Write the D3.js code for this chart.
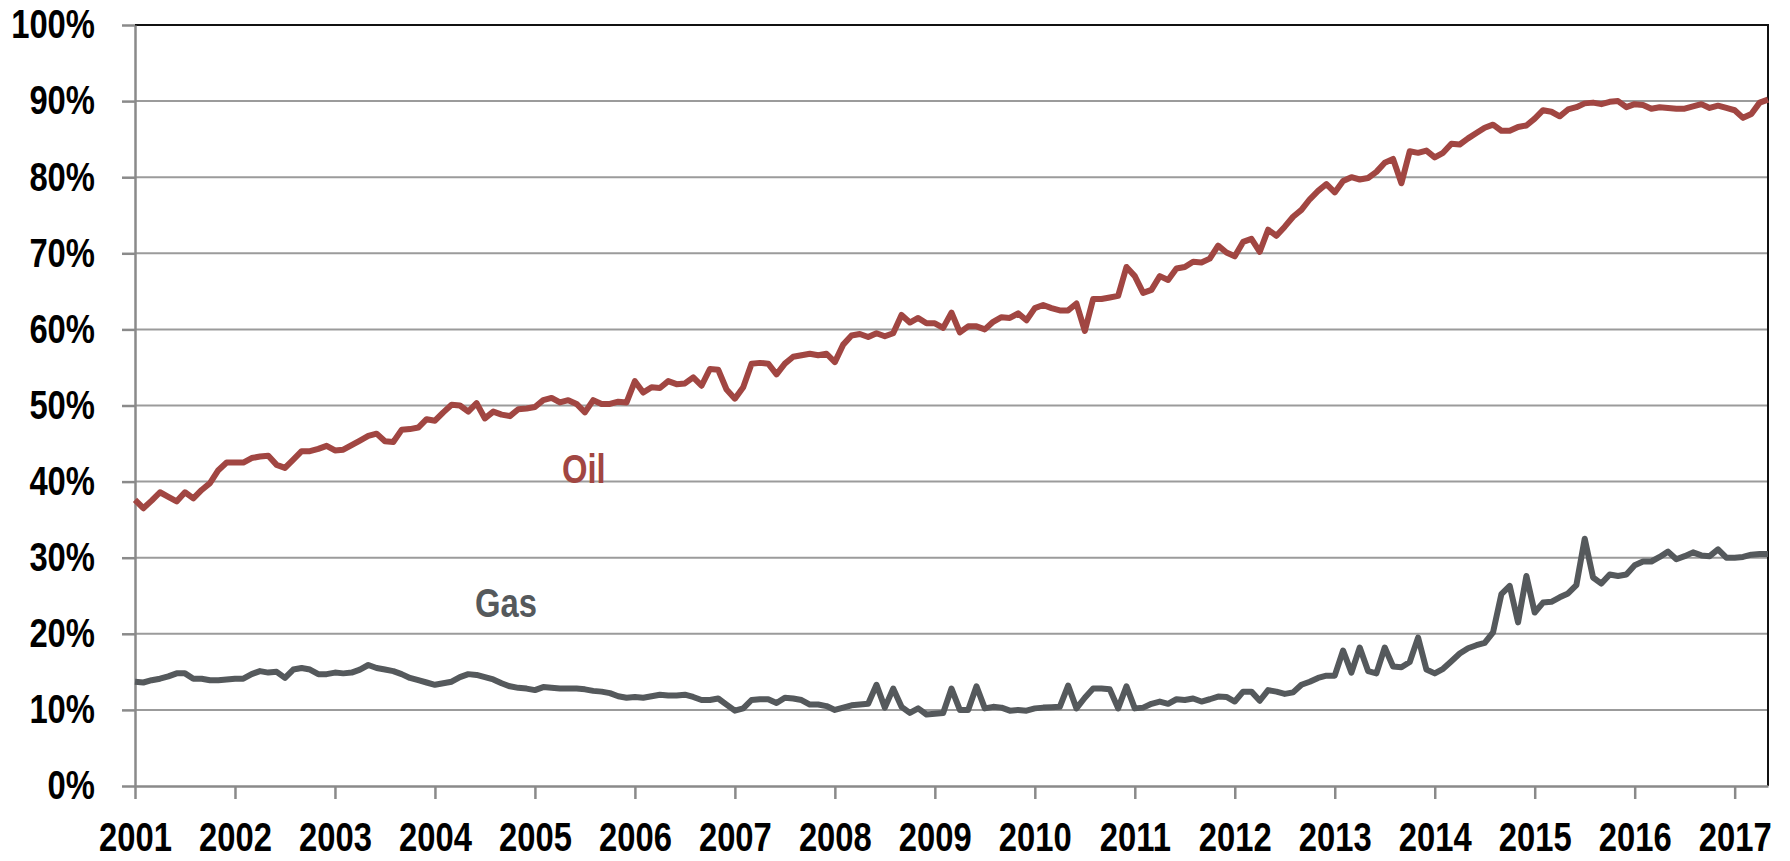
<!DOCTYPE html>
<html>
<head>
<meta charset="utf-8">
<script src="https://cdn.jsdelivr.net/npm/d3@7"></script>
<style>
  body { margin: 0; background: #fff; }
  text { font-family: "Liberation Sans Narrow", "Arial Narrow", "Liberation Sans", Arial, sans-serif; font-weight: bold; }
</style>
</head>
<body>
<div id="root"></div>
<script>
var width = 1790;
var height = 861;

// monthly shares, Jan 2001 .. May 2017
var startYear = 2001;
var oil = [
  37.6, 36.5, 37.5, 38.6, 38.0, 37.4, 38.6, 37.8, 38.9, 39.8, 41.5, 42.5,
  42.5, 42.5, 43.1, 43.3, 43.4, 42.2, 41.8, 42.9, 44.0, 44.0, 44.3, 44.7,
  44.1, 44.2, 44.8, 45.4, 46.0, 46.3, 45.3, 45.2, 46.8, 46.9, 47.1, 48.2,
  48.0, 49.1, 50.1, 50.0, 49.2, 50.3, 48.3, 49.2, 48.8, 48.6, 49.5, 49.6,
  49.8, 50.7, 51.0, 50.4, 50.7, 50.2, 49.1, 50.7, 50.2, 50.2, 50.5, 50.4,
  53.2, 51.7, 52.4, 52.3, 53.2, 52.8, 52.9, 53.7, 52.6, 54.8, 54.7, 52.1,
  50.9, 52.4, 55.5, 55.6, 55.5, 54.1, 55.5, 56.4, 56.6, 56.8, 56.6, 56.8,
  55.7, 58.0, 59.2, 59.4, 59.0, 59.5, 59.1, 59.5, 61.9, 60.9, 61.5, 60.8,
  60.8, 60.2, 62.2, 59.6, 60.4, 60.4, 60.0, 61.0, 61.6, 61.5, 62.1, 61.2,
  62.8, 63.2, 62.8, 62.5, 62.5, 63.4, 59.8, 64.0, 64.0, 64.2, 64.4, 68.2,
  67.0, 64.8, 65.2, 67.0, 66.5, 68.0, 68.2, 68.9, 68.8, 69.3, 71.0, 70.1,
  69.6, 71.5, 71.9, 70.2, 73.1, 72.3, 73.5, 74.8, 75.7, 77.1, 78.2, 79.1,
  78.0, 79.5, 80.0, 79.7, 79.9, 80.7, 81.9, 82.4, 79.2, 83.4, 83.2, 83.5,
  82.6, 83.2, 84.4, 84.3, 85.1, 85.8, 86.5, 86.9, 86.1, 86.1, 86.6, 86.8,
  87.7, 88.8, 88.6, 88.0, 88.9, 89.2, 89.7, 89.8, 89.6, 89.9, 90.0, 89.2,
  89.6, 89.5, 89.0, 89.2, 89.1, 89.0, 89.0, 89.3, 89.6, 89.1, 89.4, 89.1,
  88.8, 87.8, 88.3, 89.8, 90.2
];
var gas = [
  13.7, 13.6, 13.9, 14.1, 14.4, 14.8, 14.8, 14.1, 14.1, 13.9, 13.9, 14.0,
  14.1, 14.1, 14.7, 15.1, 14.9, 15.0, 14.2, 15.3, 15.5, 15.3, 14.7, 14.7,
  14.9, 14.8, 14.9, 15.3, 15.9, 15.5, 15.3, 15.1, 14.7, 14.2, 13.9, 13.6,
  13.3, 13.5, 13.7, 14.3, 14.7, 14.6, 14.3, 14.0, 13.5, 13.1, 12.9, 12.8,
  12.6, 13.0, 12.9, 12.8, 12.8, 12.8, 12.7, 12.5, 12.4, 12.2, 11.8, 11.6,
  11.7, 11.6, 11.8, 12.0, 11.9, 11.9, 12.0, 11.7, 11.3, 11.3, 11.5, 10.7,
  9.9, 10.2, 11.3, 11.4, 11.4, 10.9, 11.6, 11.5, 11.3, 10.7, 10.7, 10.5,
  10.0, 10.3, 10.6, 10.7, 10.8, 13.3, 10.3, 12.8, 10.4, 9.6, 10.2, 9.4,
  9.5, 9.6, 12.8, 10.0, 10.0, 13.1, 10.2, 10.4, 10.3, 9.9, 10.0, 9.9,
  10.2, 10.3, 10.35, 10.4, 13.2, 10.2, 11.6, 12.8, 12.8, 12.7, 10.2, 13.1,
  10.2, 10.3, 10.8, 11.1, 10.8, 11.4, 11.3, 11.5, 11.1, 11.4, 11.75, 11.7,
  11.1, 12.4, 12.4, 11.2, 12.6, 12.4, 12.1, 12.3, 13.3, 13.7, 14.2, 14.5,
  14.5, 17.8, 14.9, 18.2, 15.1, 14.8, 18.2, 15.7, 15.6, 16.3, 19.5, 15.3,
  14.8, 15.4, 16.4, 17.4, 18.1, 18.5, 18.8, 20.2, 25.2, 26.3, 21.5, 27.6,
  22.8, 24.1, 24.2, 24.8, 25.3, 26.4, 32.5, 27.4, 26.6, 27.8, 27.6, 27.8,
  29.0, 29.5, 29.5, 30.1, 30.8, 29.8, 30.2, 30.7, 30.3, 30.2, 31.1, 30.0,
  30.0, 30.1, 30.4, 30.5, 30.5
];
var years = d3.range(2001, 2018);
var yTicks = d3.range(0, 101, 10);

var margin = { left: 135, right: 22, top: 25, bottom: 75 };
var innerW = width - margin.left - margin.right;
var innerH = height - margin.top - margin.bottom;
var squeeze = 0.82; // no narrow font installed, condense the bold face by hand

var svg = d3.select('#root')
    .append('svg')
    .attr('width', width).attr('height', height);
var g = svg.append('g')
    .attr('transform', 'translate(' + margin.left + ',' + margin.top + ')');

var xScale = d3.scaleLinear()
    .domain([startYear, startYear + (oil.length - 1) / 12])
    .range([0, innerW]);
var yScale = d3.scaleLinear()
    .domain([0, 100])
    .range([innerH, 0]);

// gridlines
g.selectAll('.grid')
    .data(yTicks.filter(function (d) { return d > 0 && d < 100; }))
    .enter().append('line')
    .attr('class', 'grid')
    .attr('x1', 0).attr('x2', innerW)
    .attr('y1', function (d) { return yScale(d); })
    .attr('y2', function (d) { return yScale(d); })
    .attr('stroke', '#9b9b9b')
    .attr('stroke-width', 2);

// top and right border
g.append('path')
    .attr('d', 'M0,' + yScale(100) + 'H' + innerW + 'V' + innerH)
    .attr('fill', 'none')
    .attr('stroke', '#111')
    .attr('stroke-width', 2);

var xAxis = d3.axisBottom(xScale)
    .tickValues(years)
    .tickFormat(d3.format('d'))
    .tickSize(13)
    .tickPadding(24)
    .tickSizeOuter(0);
var yAxis = d3.axisLeft(yScale)
    .tickValues(yTicks)
    .tickFormat(function (d) { return d + '%'; })
    .tickSize(13)
    .tickPadding(27)
    .tickSizeOuter(0);

var xg = g.append('g')
    .attr('transform', 'translate(0,' + innerH + ')')
    .call(xAxis);
var yg = g.append('g').call(yAxis);

[xg, yg].forEach(function (a) {
  a.selectAll('path, line').attr('stroke', '#8a8a8a').attr('stroke-width', 2.5);
  a.selectAll('text')
      .attr('fill', '#000')
      .style('font-size', '40px')
      .attr('x', function () { return (+d3.select(this).attr('x') || 0) / squeeze; })
      .attr('transform', 'scale(' + squeeze + ',1)');
});

var line = d3.line()
    .x(function (d, i) { return xScale(startYear + i / 12); })
    .y(function (d) { return yScale(d); });

g.append('path')
    .datum(gas)
    .attr('d', line)
    .attr('fill', 'none')
    .attr('stroke', '#55595c')
    .attr('stroke-width', 6)
    .attr('stroke-linejoin', 'round');

g.append('path')
    .datum(oil)
    .attr('d', line)
    .attr('fill', 'none')
    .attr('stroke', '#a14642')
    .attr('stroke-width', 6)
    .attr('stroke-linejoin', 'round');

// series labels
function label(text, x, y, color) {
  svg.append('text')
      .attr('transform', 'translate(' + x + ',' + y + ') scale(' + squeeze + ',1)')
      .attr('fill', color)
      .style('font-size', '40px')
      .text(text);
}
label('Oil', 562, 483, '#a14642');
label('Gas', 475, 617, '#55595c');
</script>
</body>
</html>
